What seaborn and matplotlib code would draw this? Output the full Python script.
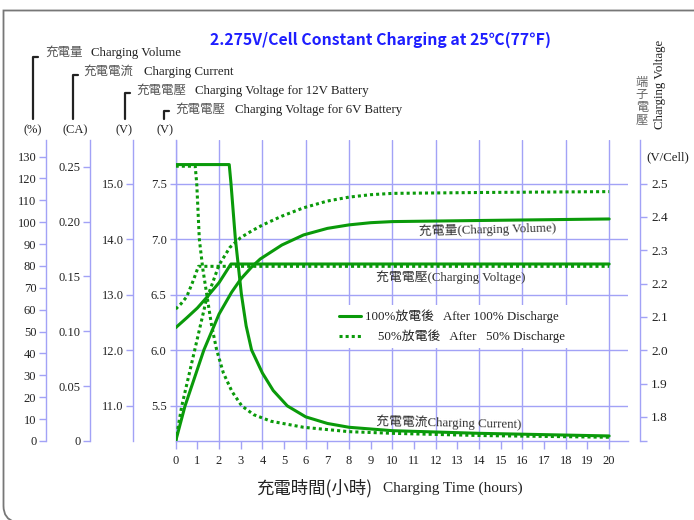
import pandas as pd
import matplotlib.pyplot as plt
import matplotlib.patches as mpatches
from matplotlib.lines import Line2D
from matplotlib.path import Path
import seaborn as sns

# ==========================================
# 0. data
# ==========================================
# 充電量 Charging Volume (%)
vol100_h = [0, 0.43, 1.3, 2.0, 2.58, 3.0, 3.5, 3.9, 4.9, 5.9, 7.0, 8.0, 9.0, 10.0, 14.0, 20.0]
vol100_pct = [0, 16, 41.6, 58, 68, 74, 79.5, 83.2, 89.6, 94.2, 97.2, 98.8, 99.8, 100.3, 100.8, 101.5]
vol50_h = [0, 0.28, 0.91, 1.4, 2.0, 2.5, 3.0, 3.5, 4.0, 4.9, 5.9, 7.0, 8.0, 9.0, 10.0, 14.0, 20.0]
vol50_pct = [0, 16, 43, 64, 80.5, 88.5, 93, 96, 98.7, 102.8, 106.6, 109.7, 111.5, 112.6, 113.2, 113.6, 114.0]

# 充電電流 Charging Current (CA)
cur100_h = [0, 2.47, 2.55, 2.75, 3.03, 3.25, 3.5, 4.0, 4.5, 5.15, 6.0, 7.0, 8.0, 10.0, 14.0, 20.0]
cur100_ca = [0.252, 0.252, 0.235, 0.185, 0.134, 0.105, 0.083, 0.062, 0.046, 0.032, 0.022, 0.016, 0.0125, 0.0094, 0.007, 0.0046]
cur50_h = [0, 0.9, 0.97, 1.09, 1.25, 1.43, 1.65, 1.89, 2.2, 2.6, 3.05, 3.6, 4.4, 5.9, 8.0, 10.0, 14.0, 20.0]
cur50_ca = [0.2505, 0.2505, 0.235, 0.184, 0.157, 0.134, 0.106, 0.083, 0.062, 0.045, 0.032, 0.024, 0.018, 0.0125, 0.0085, 0.007, 0.005, 0.0034]

# 端子電壓 Charging Voltage (V/Cell)
volt100_h = [0, 0.5, 1.0, 1.38, 2.0, 2.55, 20.0]
volt100_v = [2.068, 2.097, 2.127, 2.155, 2.203, 2.259, 2.259]
volt50_h = [0, 0.25, 0.51, 0.82, 1.05, 20.0]
volt50_v = [2.124, 2.14, 2.161, 2.211, 2.252, 2.252]

case_labels = ['100%', '50%']
legend_labels = ['100%放電後   After 100% Discharge', '    50%放電後   After   50% Discharge']

pct_ticks = list(range(0, 140, 10))
ca_ticks = [0, 0.05, 0.10, 0.15, 0.20, 0.25]
ca_ticklabels = ['0', '0.05', '0.10', '0.15', '0.20', '0.25']
v12_ticks = [11.0, 12.0, 13.0, 14.0, 15.0]
v6_ticks = [5.5, 6.0, 6.5, 7.0, 7.5]
cell_ticks = [1.8, 1.9, 2.0, 2.1, 2.2, 2.3, 2.4, 2.5]

# ==========================================
# 1. style
# ==========================================
sns.set_theme(style='white')
plt.rcParams['font.family'] = ['Liberation Serif', 'Noto Sans CJK TC', 'DejaVu Sans']

GREEN = '#0a9a0a'
AX_C = '#a2a2f6'
TXT = '#222222'
TICK_FS = 9
W, H = 694, 520


def fx(px):
    return px / W


def fy(py):
    return 1 - py / H


def long_frame(h1, y1, h2, y2, col):
    return pd.concat([pd.DataFrame({'hours': h1, col: y1, 'case': case_labels[0]}),
                      pd.DataFrame({'hours': h2, col: y2, 'case': case_labels[1]})],
                     ignore_index=True)


vol_df = long_frame(vol100_h, vol100_pct, vol50_h, vol50_pct, 'pct')
cur_df = long_frame(cur100_h, cur100_ca, cur50_h, cur50_ca, 'ca')
volt_df = long_frame(volt100_h, volt100_v, volt50_h, volt50_v, 'vcell')

fig = plt.figure(figsize=(W / 100, H / 100), dpi=100)
ax = fig.add_axes([fx(175.7), fy(441), fx(628) - fx(175.7), (441 - 140) / H])

# main axis = 6V battery voltage
X_MAX = 20.87
V6_LO, V6_HI = 5.184, 7.893
ax.set_xlim(0, X_MAX)
ax.set_ylim(V6_LO, V6_HI)
ax.set_xticks(range(0, 21, 2))
ax.set_xticks(range(1, 20, 2), labels=[str(i) for i in range(1, 20, 2)], minor=True)
ax.set_yticks(v6_ticks, labels=[f'{v:.1f}' for v in v6_ticks])
ax.grid(axis='both', which='major', color=AX_C, lw=1)
ax.grid(axis='x', which='minor', visible=False)
for s in ['top', 'right']:
    ax.spines[s].set_visible(False)
for s in ['left', 'bottom']:
    ax.spines[s].set_color(AX_C)
    ax.spines[s].set_linewidth(1)
ax.tick_params(axis='x', which='both', direction='out', length=5.8, width=1, color=AX_C,
               labelsize=TICK_FS, labelcolor=TXT, pad=4.5, bottom=True)
ax.tick_params(axis='y', which='both', direction='out', length=4.5, width=1, color=AX_C,
               labelsize=TICK_FS, labelcolor=TXT, pad=2, left=True)
ax.set_xlabel('')
ax.set_ylabel('')


def side_axis(frac, side):
    tw = ax.twinx()
    for s in tw.spines.values():
        s.set_visible(False)
    tw.spines[side].set_visible(True)
    tw.spines[side].set_position(('axes', frac))
    tw.spines[side].set_color(AX_C)
    tw.spines[side].set_linewidth(1)
    if side == 'left':
        tw.yaxis.set_ticks_position('left')
        tw.yaxis.set_label_position('left')
    tw.tick_params(axis='y', which='both', direction='out', length=5, width=1, color=AX_C,
                   labelsize=TICK_FS if side == 'left' else 9.5, labelcolor=TXT,
                   pad=2 if side == 'left' else 3)
    return tw


span = 628 - 175.7
ax_pct = side_axis((46 - 175.7) / span, 'left')
ax_ca = side_axis((90.3 - 175.7) / span, 'left')
ax_12 = side_axis((133.3 - 175.7) / span, 'left')
ax_cell = side_axis((640 - 175.7) / span, 'right')

ax_pct.set_ylim(0, 137.6)
ax_pct.set_yticks(pct_ticks, labels=[str(v) for v in pct_ticks])
ax_ca.set_ylim(0, 0.2744)
ax_ca.set_yticks(ca_ticks, labels=ca_ticklabels)
ax_12.set_ylim(V6_LO * 2, V6_HI * 2)
ax_12.set_yticks(v12_ticks, labels=[f'{v:.1f}' for v in v12_ticks])
ax_cell.set_ylim(V6_LO / 3, V6_HI / 3)
ax_cell.set_yticks(cell_ticks, labels=[f'{v:.1f}' for v in cell_ticks])
ax_cell.set_yticks([V6_LO / 3], minor=True)

# ==========================================
# 2. curves
# ==========================================
dash_map = {case_labels[0]: '', case_labels[1]: (1, 1)}
for df, col, target in [(vol_df, 'pct', ax_pct), (cur_df, 'ca', ax_ca), (volt_df, 'vcell', ax_cell)]:
    sns.lineplot(data=df, x='hours', y=col, style='case', style_order=case_labels,
                 dashes=dash_map, color=GREEN, lw=2.2, estimator=None,
                 legend=False, ax=target)
    target.set_xlabel('')
    target.set_ylabel('')
for tw in [ax_pct, ax_ca, ax_12, ax_cell]:
    tw.set_xlim(0, X_MAX)

# legend with white background
handles = [Line2D([], [], color=GREEN, lw=2.2, ls='-'),
           Line2D([], [], color=GREEN, lw=2.2, ls=(0, (1, 1)))]
leg = ax.legend(handles, legend_labels, loc='upper left',
                bbox_to_anchor=(fx(334), fy(305)), bbox_transform=fig.transFigure,
                frameon=True, facecolor='white', edgecolor='none', framealpha=1,
                fancybox=False, fontsize=9.3, handlelength=1.75, handletextpad=0.3,
                labelspacing=0.5, borderpad=0.35, borderaxespad=0)
for t in leg.get_texts():
    t.set_color(TXT)

# curve labels
lab_kw = dict(fontsize=9.3, color='#333333', va='center', ha='left')
fig.text(fx(419), fy(229), '充電量(Charging Volume)', rotation=1.5, **lab_kw)
fig.text(fx(376), fy(277), '充電電壓(Charging Voltage)', **lab_kw)
fig.text(fx(376), fy(423), '充電電流Charging Current)', rotation=-1.2, **lab_kw)

# ==========================================
# 3. titles and axis annotations
# ==========================================
fig.text(fx(381), fy(40), '2.275V/Cell Constant Charging at 25℃(77℉)',
         family=['Noto Sans CJK TC', 'DejaVu Sans'], fontsize=11.4, weight='bold',
         color='#1e1eff', ha='center', va='center')

fig.text(fx(373), fy(488), '充電時間(小時)', family=['Noto Sans CJK TC', 'DejaVu Sans'],
         fontsize=12.5, color=TXT, ha='right', va='center')
fig.text(fx(383), fy(488), 'Charging Time (hours)', fontsize=11, color=TXT,
         ha='left', va='center')

# bracket labels for the four left axes
brackets = [(32.5, 57, 45, 91, 53, '充電量', 'Charging Volume'),
            (73.3, 75, 83, 143.7, 72, '充電電流', 'Charging Current'),
            (125, 93, 136, 195, 91, '充電電壓', 'Charging Voltage for 12V Battery'),
            (164, 111, 175, 235, 109.5, '充電電壓', 'Charging Voltage for 6V Battery')]
for bx, btop, zh_x, en_x, ty, zh, en in brackets:
    fig.add_artist(Line2D([fx(bx + 5), fx(bx), fx(bx)], [fy(btop), fy(btop), fy(118.5)],
                          color='#222222', lw=1.6, transform=fig.transFigure))
    fig.text(fx(zh_x), fy(ty), zh, fontsize=9, color='#555555', ha='left', va='center')
    fig.text(fx(en_x), fy(ty), en, fontsize=9.3, color=TXT, ha='left', va='center')

for ux, unit in [(33, '(%)'), (75, '(CA)'), (124, '(V)'), (165, '(V)')]:
    fig.text(fx(ux), fy(130), unit, fontsize=9, color=TXT, ha='center', va='center')

# right axis title
for i, ch in enumerate('端子電壓'):
    fig.text(fx(642), fy(82 + i * 12.7), ch, family=['Noto Sans CJK TC'], fontsize=8.8,
             color='#666666', ha='center', va='center')
fig.text(fx(659.5), fy(84), 'Charging Voltage', rotation=90, fontsize=9.3,
         color=TXT, ha='center', va='center')
fig.text(fx(668), fy(157), '(V/Cell)', fontsize=9.3, color=TXT, ha='center', va='center')

# outer frame
frame_verts = [(W + 2, 10.5), (3.5, 10.5), (3.5, 506), (3.5, 519), (15, 522)]
frame_codes = [Path.MOVETO, Path.LINETO, Path.LINETO, Path.CURVE3, Path.CURVE3]
frame_path = Path([(fx(x), fy(y)) for x, y in frame_verts], frame_codes)
fig.add_artist(mpatches.PathPatch(frame_path, fill=False, edgecolor='#777777', lw=1.3,
                                  transform=fig.transFigure))

fig.savefig('out.png', dpi=100)
plt.close(fig)
